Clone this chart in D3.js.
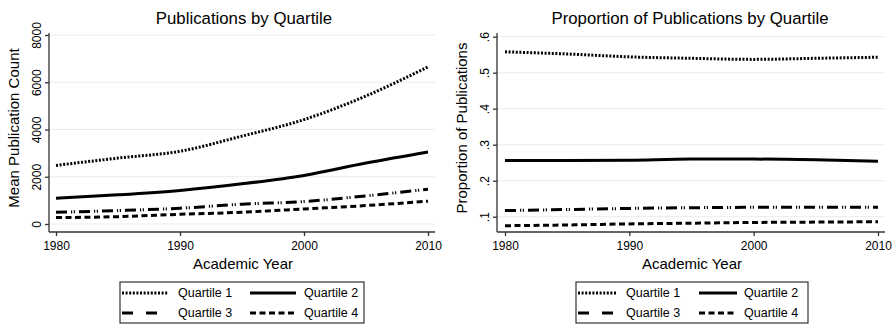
<!DOCTYPE html>
<html>
<head>
<meta charset="utf-8">
<script src="https://cdn.jsdelivr.net/npm/d3@7"></script>
<style>
  body { margin: 0; background: #fff; }
  svg { display: block; font-family: "Liberation Sans", Arial, sans-serif; }
</style>
</head>
<body>
<svg id="chart" width="896" height="326"></svg>
<script>
// data (every 5 years)
const years = [1980, 1985, 1990, 1995, 2000, 2005, 2010]
const quartiles = ["Quartile 1", "Quartile 2", "Quartile 3", "Quartile 4"]

const countQ1 = [2480, 2790, 3080, 3720, 4420, 5420, 6650]
const countQ2 = [1095, 1235, 1420, 1700, 2055, 2580, 3050]
const countQ3 = [497, 567, 668, 838, 950, 1190, 1475]
const countQ4 = [270, 312, 412, 497, 638, 780, 965]

const propQ1 = [0.558, 0.552, 0.544, 0.540, 0.537, 0.540, 0.543]
const propQ2 = [0.256, 0.256, 0.257, 0.260, 0.260, 0.258, 0.254]
const propQ3 = [0.117, 0.120, 0.123, 0.125, 0.126, 0.126, 0.126]
const propQ4 = [0.075, 0.077, 0.080, 0.082, 0.084, 0.085, 0.086]

const xTicks = [1980, 1990, 2000, 2010]
const countTicks = [0, 2000, 4000, 6000, 8000]
const propTicks = [0.1, 0.2, 0.3, 0.4, 0.5, 0.6]

// line styles per quartile
const dashes = ["2,1.6", null, "11,4,1.2,1.6,1.2,4", "6,3.5"]
const widths = [3, 3, 3, 3]

const svg = d3.select("#chart")

const drawPanel = function(p) {
  const x = d3.scaleLinear().domain([1980, 2010]).range([p.x0, p.x1])
  const y = d3.scaleLinear().domain(p.ydom).range(p.yrange)

  const g = svg.append("g")

  // gridlines
  g.append("g").selectAll("line")
    .data(p.yticks)
    .enter().append("line")
    .attr("x1", p.axisX).attr("x2", p.gridEnd)
    .attr("y1", d => y(d)).attr("y2", d => y(d))
    .attr("stroke", "#ececec").attr("stroke-width", 1)

  // lines
  const line = d3.line()
    .x((d, i) => x(years[i]))
    .y(d => y(d))
    .curve(d3.curveMonotoneX)

  g.append("g").selectAll("path")
    .data(p.series)
    .enter().append("path")
    .attr("d", d => line(d))
    .attr("fill", "none")
    .attr("stroke", "#000")
    .attr("stroke-width", (d, i) => widths[i])
    .attr("stroke-dasharray", (d, i) => dashes[i])

  // y axis
  const yAxis = g.append("g")
    .attr("transform", "translate(" + p.axisX + ",0)")
    .call(d3.axisLeft(y).tickValues(p.yticks).tickSize(4).tickSizeOuter(0).tickFormat(p.yfmt))
  yAxis.select(".domain").attr("d", "M0," + p.axisTop + "V" + p.axisY)
  yAxis.selectAll(".tick text")
    .attr("transform", d => "rotate(-90)")
    .attr("x", 0).attr("y", -8).attr("dy", 0)
    .attr("text-anchor", "middle")
    .attr("font-size", 12)
    .attr("font-family", "Liberation Sans, Arial, sans-serif")

  // x axis
  const xAxis = g.append("g")
    .attr("transform", "translate(0," + p.axisY + ")")
    .call(d3.axisBottom(x).tickValues(xTicks).tickSize(4).tickSizeOuter(0).tickFormat(d3.format("d")))
  xAxis.select(".domain").attr("d", "M" + p.axisX + ",0H" + p.gridEnd)
  xAxis.selectAll(".tick text")
    .attr("font-size", 12).attr("dy", "0.95em")
    .attr("font-family", "Liberation Sans, Arial, sans-serif")

  g.selectAll(".domain, .tick line").attr("stroke", "#333").attr("stroke-width", 1.3)

  // titles
  g.append("text").text(p.title)
    .attr("x", p.titleX).attr("y", 24)
    .attr("text-anchor", "middle").attr("font-size", 16.8)
  g.append("text").text("Academic Year")
    .attr("x", p.xlabX).attr("y", 269)
    .attr("text-anchor", "middle").attr("font-size", 15)
  g.append("text").text(p.ylab)
    .attr("transform", "translate(" + p.ylabX + "," + p.ylabY + ") rotate(-90)")
    .attr("text-anchor", "middle").attr("font-size", 15)

  // legend
  const lg = g.append("g")
  lg.append("rect")
    .attr("x", p.leg.x).attr("y", 282)
    .attr("width", p.leg.w).attr("height", 41)
    .attr("fill", "#fff").attr("stroke", "#333").attr("stroke-width", 1.2)
  const items = lg.selectAll("g.item")
    .data(quartiles)
    .enter().append("g").attr("class", "item")
    .attr("transform", (d, i) => "translate(" + p.leg.cols[i % 2] + "," + [293, 313][Math.floor(i / 2)] + ")")
  items.append("line")
    .attr("x1", 0).attr("x2", p.leg.sw)
    .attr("stroke", "#000")
    .attr("stroke-width", 3)
    .attr("stroke-dasharray", (d, i) => i === 2 ? "11,13" : dashes[i])
  items.append("text").text(d => d)
    .attr("x", (d, i) => p.leg.tx[i % 2]).attr("dy", "0.35em")
    .attr("font-size", 12.5)
}

drawPanel({
  x0: 56, x1: 428, axisX: 49, gridEnd: 435, axisY: 232, axisTop: 33,
  ydom: [0, 8000], yrange: [224, 35], yticks: countTicks, yfmt: d3.format("d"),
  series: [countQ1, countQ2, countQ3, countQ4],
  title: "Publications by Quartile", titleX: 244,
  xlabX: 243, ylab: "Mean Publication Count", ylabX: 19, ylabY: 128,
  leg: { x: 120, w: 244, cols: [122, 250], sw: 46, tx: [56, 54] }
})

drawPanel({
  x0: 505, x1: 878, axisX: 497, gridEnd: 885, axisY: 232, axisTop: 33,
  ydom: [0.1, 0.6], yrange: [216.7, 36.7], yticks: propTicks, yfmt: d => d3.format(".1f")(d).replace(/^0/, ""),
  series: [propQ1, propQ2, propQ3, propQ4],
  title: "Proportion of Publications by Quartile", titleX: 690,
  xlabX: 692, ylab: "Proportion of Publications", ylabX: 467, ylabY: 128,
  leg: { x: 576, w: 232, cols: [578, 699], sw: 38, tx: [48, 45] }
})
</script>
</body>
</html>
